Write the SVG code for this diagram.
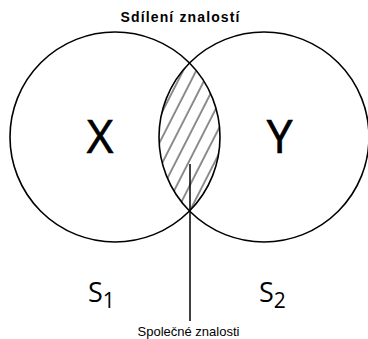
<svg xmlns="http://www.w3.org/2000/svg" width="368" height="339" viewBox="0 0 368 339">
  <style>
    .circle { fill: none; stroke: #000; stroke-width: 1.6; }
    .big { font-family: "Open Sans", "Liberation Sans", sans-serif; fill: #000; }
    .heavy { stroke: #000; stroke-width: 0.7; }
    .title { font-family: "Liberation Sans", Arial, sans-serif; font-weight: bold; font-size: 14px; fill: #000; }
    .note { font-family: "Liberation Sans", Arial, sans-serif; font-size: 13px; fill: #000; }
  </style>
  <defs>
    <pattern id="hatch" patternUnits="userSpaceOnUse" width="11.6" height="20" patternTransform="rotate(27)">
      <line x1="9.7" y1="-1" x2="9.7" y2="21" stroke="#000" stroke-width="0.9"/>
    </pattern>
    <clipPath id="rightClip">
      <circle cx="264" cy="137" r="105"/>
    </clipPath>
  </defs>
  <rect width="368" height="339" fill="#fff"/>
  <g id="title">
    <text class="title" x="180" y="21.5" text-anchor="middle" textLength="119" lengthAdjust="spacing">Sdílení znalostí</text>
  </g>
  <g id="intersection">
    <circle cx="115" cy="137" r="105" fill="url(#hatch)" clip-path="url(#rightClip)"/>
  </g>
  <g id="circleX">
    <circle class="circle" cx="115" cy="137" r="105"/>
    <text class="big heavy" x="100" y="152.5" font-size="46" text-anchor="middle">X</text>
  </g>
  <g id="circleY">
    <circle class="circle" cx="264" cy="137" r="105"/>
    <text class="big heavy" x="279.5" y="152.5" font-size="46" text-anchor="middle">Y</text>
  </g>
  <g id="labelS1">
    <text class="big" x="88" y="301.5" font-size="27">S<tspan font-size="21" dy="6.7">1</tspan></text>
  </g>
  <g id="labelS2">
    <text class="big" x="259" y="301.5" font-size="27">S<tspan font-size="21" dy="6.7">2</tspan></text>
  </g>
  <g id="connectors">
    <line x1="190" y1="164" x2="190" y2="321" stroke="#000" stroke-width="1.5"/>
  </g>
  <g id="common">
    <text class="note" x="188.5" y="336" text-anchor="middle">Společné znalosti</text>
  </g>
</svg>
